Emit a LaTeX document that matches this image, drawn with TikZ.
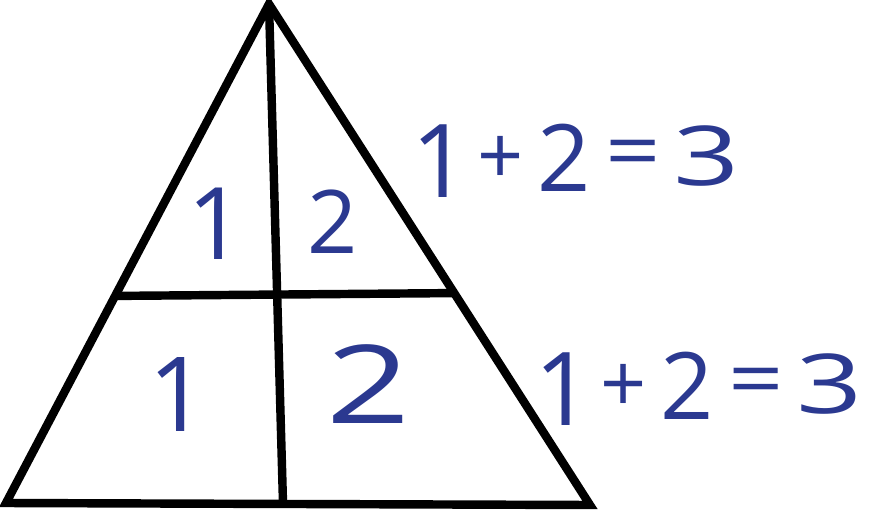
\documentclass[tikz,border=0pt]{standalone}
\usepackage{fontspec}
\setmainfont{Open Sans}
\usetikzlibrary{calc}
\definecolor{numblue}{RGB}{43,57,144}

\begin{document}
\begin{tikzpicture}[x=0.02cm,y=-0.02cm,
    edge/.style={line width=4.8pt,black},
    num/.style={text=numblue,inner sep=0pt}]
        \useasboundingbox (0,0) rectangle (870,514);

        % Corners of the triangle
        \coordinate (top) at (269,4);
        \coordinate (left) at (6,503);
        \coordinate (right) at (590,505);
        \coordinate (foot) at (283,503);

        % Draw the triangle
        \draw[edge] (top) -- (left) -- (right) -- cycle;

        % Split it into four parts
        \draw[edge] (top) -- (foot);
        \draw[edge] ($(top)!0.585!(left)$) -- ($(top)!0.577!(right)$);

        % Numbers inside the parts
        \node[num, font=\fontsize{57}{60}\selectfont] (upone) at (216,224) {1};
        \node[num, font=\fontsize{50}{60}\selectfont] (uptwo) at (333,222) {2};
        \node[num, font=\fontsize{59}{60}\selectfont] (lowone) at (178,394) {1};
        \node[num, font=\fontsize{62}{60}\selectfont] (lowtwo) at (369,384) {\scalebox{1.35}[1]{2}};

        % Sums to the right of the triangle
        \foreach \r/\dx/\dy in {upsum/0/0, lowsum/123/228}
        {
          \node[num, font=\fontsize{58}{60}\selectfont] (\r-one) at (441+\dx,161+\dy) {1};
          \node[num, anchor=base, font=\fontsize{46}{60}\selectfont] (\r-plus) at (501+\dx,184+\dy) {+};
          \node[num, font=\fontsize{53}{60}\selectfont] (\r-two) at (564+\dx,158+\dy) {2};
          \node[num, anchor=base, font=\fontsize{46}{60}\selectfont] (\r-eq) at (633+\dx,179+\dy) {\scalebox{1.2}[1]{=}};
          \node[num, font=\fontsize{47}{60}\selectfont] (\r-three) at (707+\dx,156+\dy) {\scalebox{1.4}[1]{3}};
        }
      \end{tikzpicture}
\end{document}
